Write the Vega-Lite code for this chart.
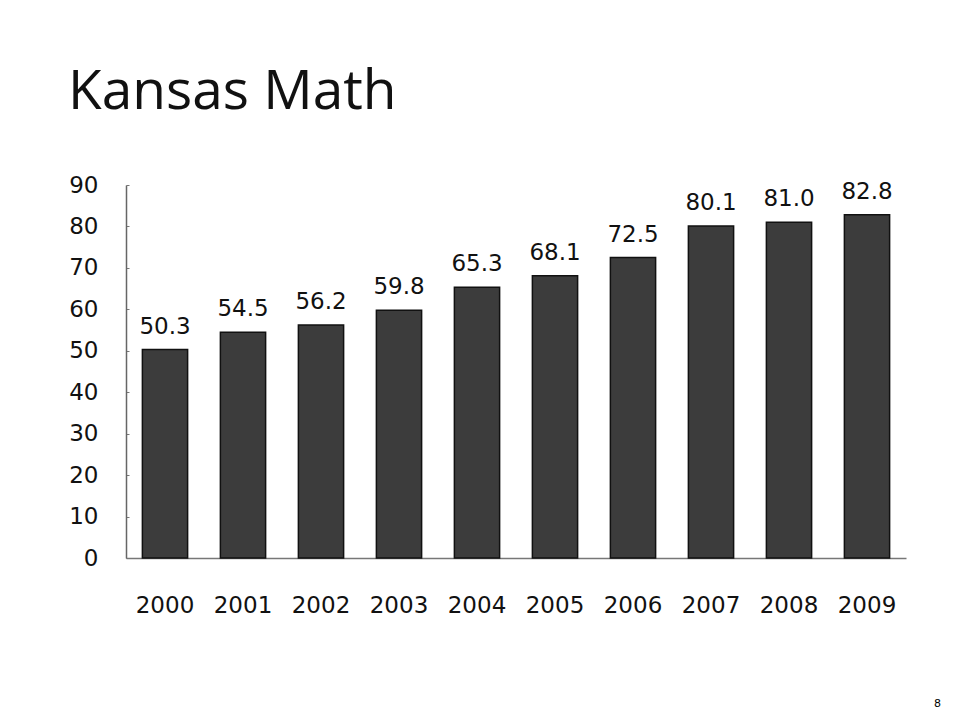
{
  "$schema": "https://vega.github.io/schema/vega-lite/v6.json",
  "autosize": {"type": "none"},
  "width": 780,
  "height": 373,
  "padding": {"left": 126, "top": 185, "right": 54, "bottom": 167},
  "background": "white",
  "title": {
    "text": "Kansas Math",
    "anchor": "start",
    "frame": "group",
    "font": "Open Sans",
    "fontSize": 55,
    "fontWeight": "normal",
    "color": "#111111",
    "baseline": "alphabetic",
    "dx": -58,
    "dy": 67,
    "offset": 77
  },
  "config": {
    "view": {"stroke": null},
    "font": "DejaVu Sans"
  },
  "data": {
    "values": [
      {"year": "2000", "score": 50.3},
      {"year": "2001", "score": 54.5},
      {"year": "2002", "score": 56.2},
      {"year": "2003", "score": 59.8},
      {"year": "2004", "score": 65.3},
      {"year": "2005", "score": 68.1},
      {"year": "2006", "score": 72.5},
      {"year": "2007", "score": 80.1},
      {"year": "2008", "score": 81.0},
      {"year": "2009", "score": 82.8}
    ]
  },
  "encoding": {
    "x": {
      "field": "year",
      "type": "nominal",
      "sort": null,
      "scale": {"paddingInner": 0.42, "paddingOuter": 0.21},
      "axis": {
        "title": "8",
        "titleFont": "DejaVu Sans",
        "titleFontSize": 11,
        "titleFontWeight": "normal",
        "titleColor": "#000000",
        "titleX": 811,
        "titleY": 145,
        "titleAlign": "center",
        "titleBaseline": "middle",
        "labelAngle": 0,
        "labelFont": "DejaVu Sans",
        "labelFontSize": 23,
        "labelColor": "#111111",
        "labelPadding": 36,
        "ticks": false,
        "domainColor": "#777777",
        "domainWidth": 1.5
      }
    },
    "y": {
      "field": "score",
      "type": "quantitative",
      "scale": {"domain": [0, 90], "nice": false},
      "axis": {
        "title": null,
        "values": [0, 10, 20, 30, 40, 50, 60, 70, 80, 90],
        "grid": false,
        "labelFont": "DejaVu Sans",
        "labelFontSize": 23,
        "labelColor": "#111111",
        "labelPadding": 31,
        "tickSize": -3,
        "tickColor": "#777777",
        "domainColor": "#666666",
        "domainWidth": 1.5
      }
    }
  },
  "layer": [
    {
      "mark": {"type": "bar", "color": "#3c3c3c", "stroke": "#111111", "strokeWidth": 1.5}
    },
    {
      "mark": {"type": "text", "baseline": "alphabetic", "dy": -16, "font": "DejaVu Sans", "fontSize": 23, "color": "#111111"},
      "encoding": {
        "text": {"field": "score", "type": "quantitative", "format": ".1f"}
      }
    }
  ]
}
